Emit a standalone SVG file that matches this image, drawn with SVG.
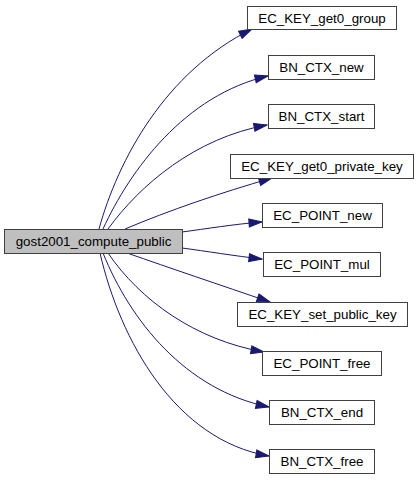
<svg xmlns="http://www.w3.org/2000/svg" width="419" height="480" viewBox="0 0 419 480">
<style>
.n rect{fill:#fff;stroke:#404040;stroke-width:1}
.n text{font-family:"Liberation Sans",Arial,sans-serif;font-size:13.33px;text-anchor:middle;fill:#000}
#main rect{fill:#bfbfbf}
.e path{fill:none;stroke:#191970;stroke-width:1;marker-end:url(#ah)}
</style>
<defs>
<marker id="ah" markerUnits="userSpaceOnUse" markerWidth="16" markerHeight="12" refX="14" refY="5" orient="auto">
<path d="M1,1 L14,5 L1,9 z" fill="#191970" stroke="#191970" stroke-width="1"/>
</marker>
</defs>
<g class="e" id="edges">
<path d="M99,229 C118,160 165,72 252,29"/>
<path d="M103,229 C130,170 185,95 268,76"/>
<path d="M108,229 C140,185 195,138 267,125"/>
<path d="M125,229 C170,210 220,193 272,178"/>
<path d="M182,232 C205,229 235,224 262,222"/>
<path d="M182,248 C205,251 235,256 262,259"/>
<path d="M127,253 C170,268 220,285 270,302"/>
<path d="M108,253 C140,300 195,340 264,352"/>
<path d="M103,253 C130,320 185,390 269,407"/>
<path d="M100,253 C120,340 175,440 269,456"/>
</g>
<g class="n" id="main"><rect x="4.5" y="229.5" width="178" height="24"/><text x="93.5" y="246">gost2001_compute_public</text></g>
<g class="n" id="n1"><rect x="247.5" y="6.5" width="149" height="23"/><text x="322" y="22.5">EC_KEY_get0_group</text></g>
<g class="n" id="n2"><rect x="268.5" y="55.5" width="106" height="24"/><text x="321.5" y="72">BN_CTX_new</text></g>
<g class="n" id="n3"><rect x="268.5" y="104.5" width="106" height="24"/><text x="321.5" y="121">BN_CTX_start</text></g>
<g class="n" id="n4"><rect x="230.5" y="154.5" width="183" height="24"/><text x="322" y="171">EC_KEY_get0_private_key</text></g>
<g class="n" id="n5"><rect x="262.5" y="203.5" width="120" height="24"/><text x="322.5" y="220">EC_POINT_new</text></g>
<g class="n" id="n6"><rect x="263.5" y="252.5" width="117" height="24"/><text x="322" y="269">EC_POINT_mul</text></g>
<g class="n" id="n7"><rect x="237.5" y="302.5" width="170" height="24"/><text x="322.5" y="319">EC_KEY_set_public_key</text></g>
<g class="n" id="n8"><rect x="262.5" y="351.5" width="119" height="24"/><text x="322" y="368">EC_POINT_free</text></g>
<g class="n" id="n9"><rect x="269.5" y="400.5" width="105" height="24"/><text x="322" y="417">BN_CTX_end</text></g>
<g class="n" id="n10"><rect x="269.5" y="449.5" width="105" height="24"/><text x="322" y="466">BN_CTX_free</text></g>
</svg>
